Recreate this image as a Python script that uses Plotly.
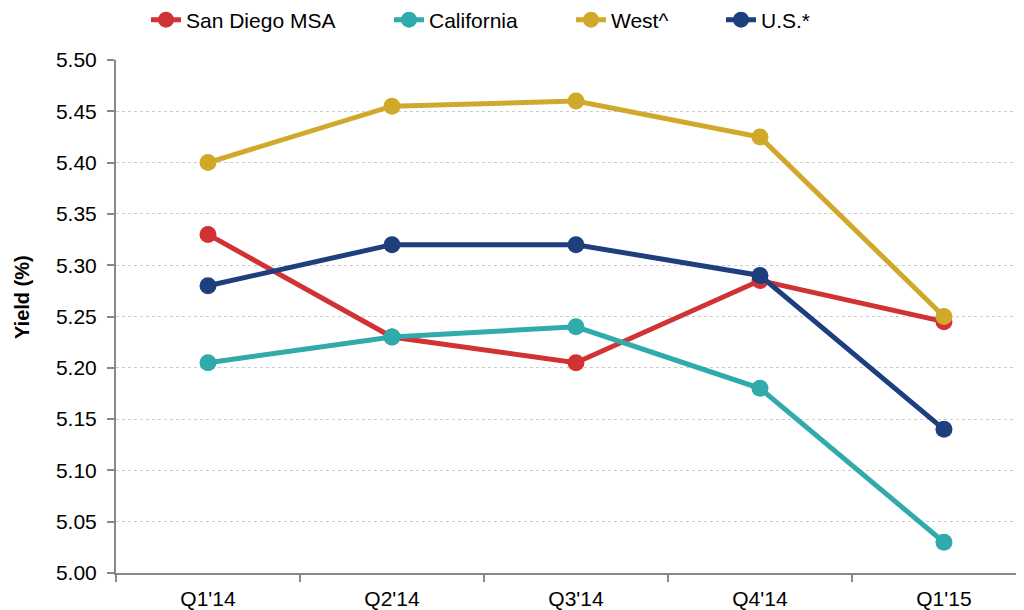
import plotly.graph_objects as go

categories = ["Q1'14", "Q2'14", "Q3'14", "Q4'14", "Q1'15"]
san_diego = [5.33, 5.23, 5.205, 5.285, 5.245]
california = [5.205, 5.23, 5.24, 5.18, 5.03]
west = [5.40, 5.455, 5.46, 5.425, 5.25]
us = [5.28, 5.32, 5.32, 5.29, 5.14]

series = [
    ("San Diego MSA", san_diego, "#D13234", "legend", 138),
    ("California", california, "#30AAAA", "legend2", 381),
    ("West^", west, "#D1A92A", "legend3", 563),
    ("U.S.*", us, "#1D3F7D", "legend4", 713),
]

# page body adds an 8px offset; the figure is sized to fill the rest of the window
W, H = 1016, 602
fig = go.Figure()
legends = {}
for name, vals, col, lg, px in series:
    fig.add_trace(go.Scatter(
        x=categories, y=vals, name=name, mode="lines+markers",
        line=dict(color=col, width=5),
        marker=dict(color=col, size=17),
        legend=lg,
    ))
    legends[lg] = dict(xref="container", yref="container", x=px / W, y=1 - 12 / H,
                       xanchor="left", yanchor="middle", orientation="h",
                       font=dict(size=21), bgcolor="rgba(0,0,0,0)")

fig.update_layout(
    width=W, height=H,
    margin=dict(l=108, r=0, t=52, b=37, autoexpand=False),
    paper_bgcolor="white", plot_bgcolor="white",
    font=dict(family="Liberation Sans, Arial, sans-serif", size=21, color="black"),
    showlegend=True,
    **legends,
)
fig.update_xaxes(
    type="category", range=[-0.5, 4.435], automargin=False,
    showline=True, linecolor="#888888", linewidth=2,
    ticks="outside", tickson="boundaries", ticklen=7, tickcolor="#888888", tickwidth=2,
    ticklabelstandoff=6,
    showgrid=False, tickfont=dict(size=21),
)
fig.update_yaxes(
    range=[5.0, 5.5], dtick=0.05, tickformat=".2f", automargin=False,
    showline=True, linecolor="#888888", linewidth=2,
    ticks="outside", ticklen=7, tickcolor="#888888", tickwidth=2, ticklabelstandoff=6,
    showgrid=True, gridcolor="#CCCCCC", griddash="dot", gridwidth=1,
    zeroline=False, tickfont=dict(size=21),
)
fig.add_annotation(
    text="<b>Yield (%)</b>", xref="paper", yref="paper", x=-(108 - 14) / (W - 108), y=0.538,
    textangle=-90, showarrow=False, font=dict(size=20), xanchor="center", yanchor="middle",
)
fig.write_html("out.html")
